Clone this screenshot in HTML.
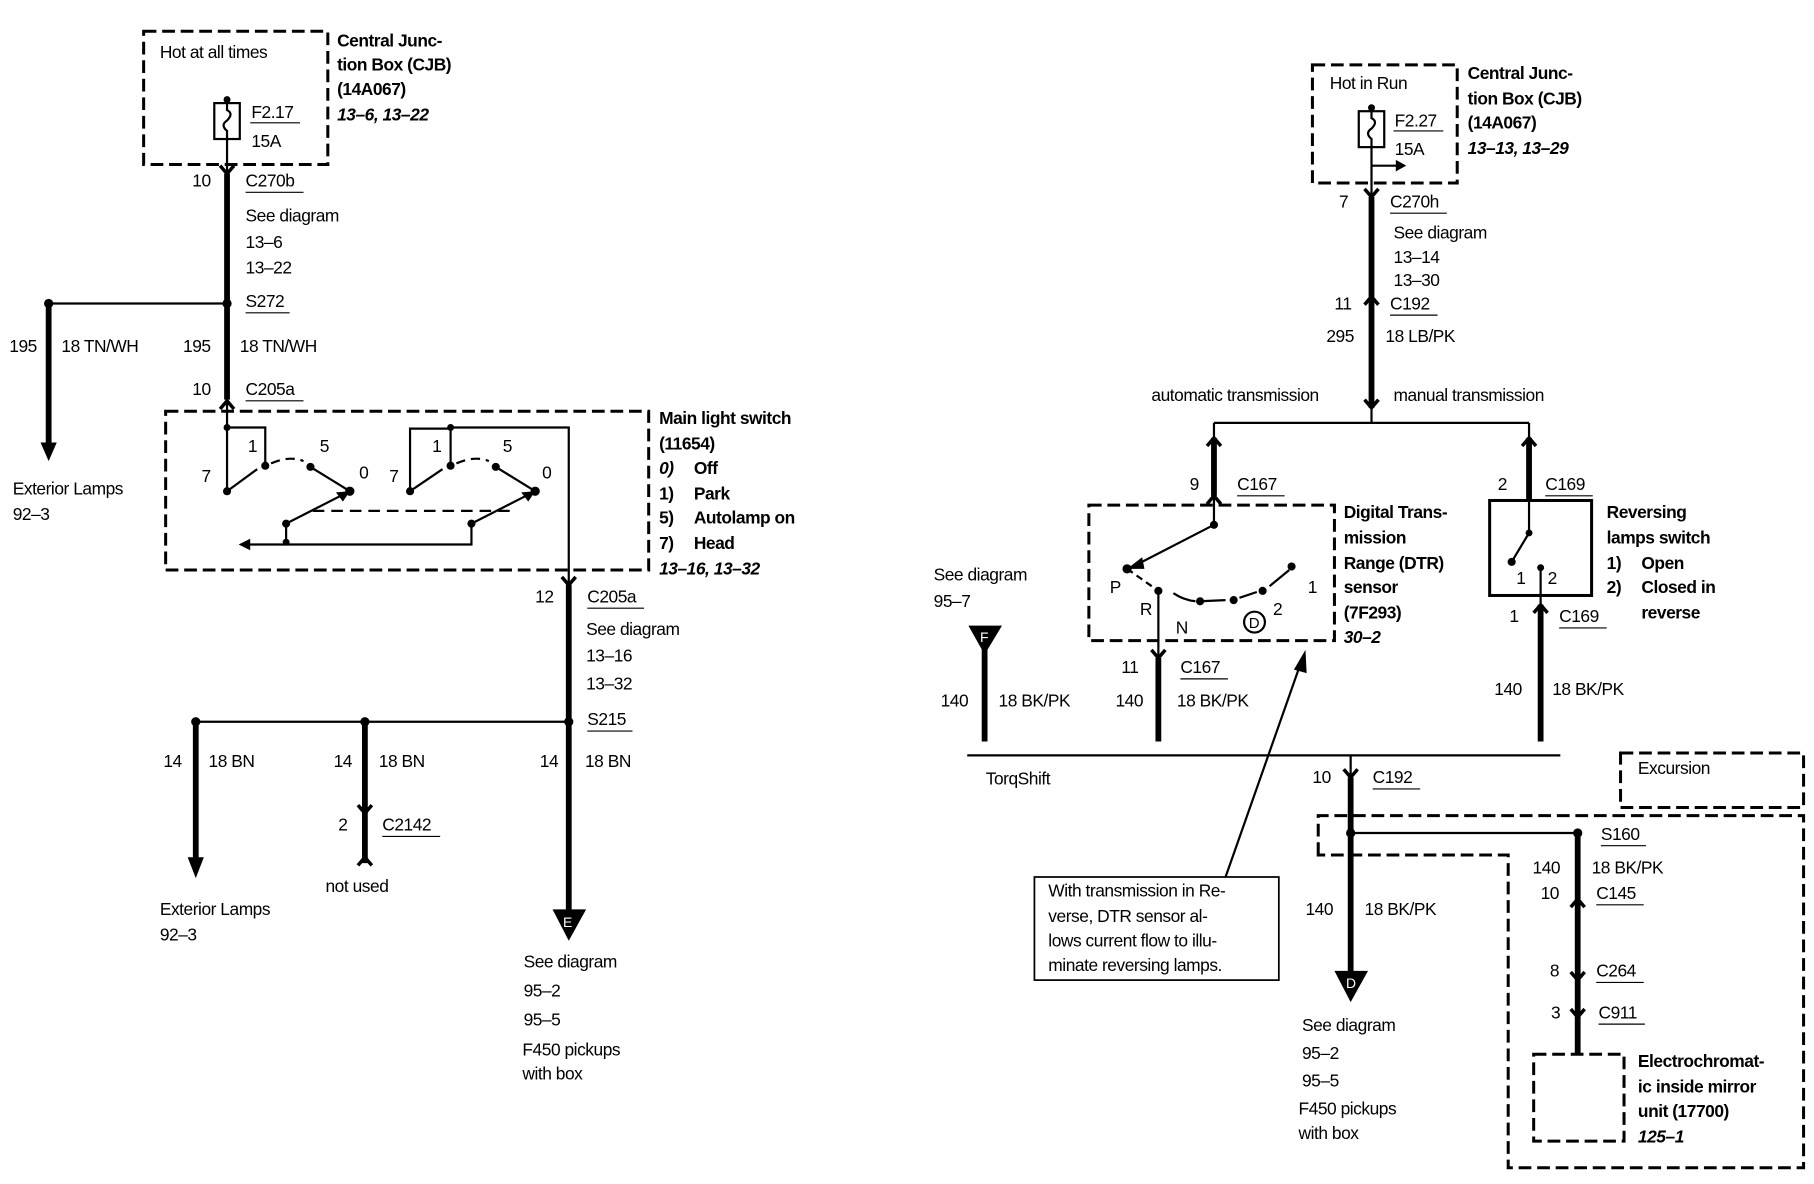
<!DOCTYPE html>
<html><head><meta charset="utf-8"><style>
html,body{margin:0;padding:0;background:#fff;}
svg{display:block;}
text{font-family:"Liberation Sans",sans-serif;font-size:15px;fill:#000;letter-spacing:-0.4px;}
.b{font-weight:bold;}
.i{font-style:italic;font-weight:bold;}
.w{stroke:#000;stroke-width:5;fill:none;}
.t{stroke:#000;stroke-width:1.9;fill:none;}
.c{stroke:#000;stroke-width:3;fill:none;}
.d{stroke:#000;stroke-width:2.6;fill:none;stroke-dasharray:11,5;}
.u{stroke:#000;stroke-width:1;}
</style></head><body>
<svg width="1814" height="1184" viewBox="0 0 1566 1022" preserveAspectRatio="none" xmlns="http://www.w3.org/2000/svg">
<rect width="1566" height="1022" fill="#fff"/>

<!-- ===== LEFT: CJB ===== -->
<rect x="124" y="27" width="159" height="115" class="d"/>
<text x="138" y="50">Hot at all times</text>
<circle cx="196" cy="86" r="3"/>
<rect x="185" y="89" width="22" height="31" class="t"/>
<path d="M196 89 v6 q6 3 0 9 q-6 4 0 9 v7" class="t"/>
<text x="217" y="102">F2.17</text><line x1="216" y1="106" x2="259" y2="106" class="u"/>
<text x="217" y="127">15A</text>
<text x="291" y="40" class="b">Central Junc-</text>
<text x="291" y="61" class="b">tion Box (CJB)</text>
<text x="291" y="82" class="b">(14A067)</text>
<text x="291" y="104" class="i">13–6, 13–22</text>

<line x1="196" y1="120" x2="196" y2="150" class="t"/>
<path d="M190 143 L196 150 L202 143" class="c"/>
<line x1="196" y1="150" x2="196" y2="345" class="w"/>
<text x="166" y="161">10</text>
<text x="212" y="161">C270b</text><line x1="212" y1="166" x2="262" y2="166" class="u"/>
<text x="212" y="191">See diagram</text>
<text x="212" y="214">13–6</text>
<text x="212" y="236">13–22</text>
<circle cx="196" cy="262" r="4"/>
<text x="212" y="265">S272</text><line x1="212" y1="270" x2="250" y2="270" class="u"/>
<line x1="42" y1="262" x2="196" y2="262" class="t"/>
<circle cx="42" cy="262" r="4"/>
<line x1="42" y1="262" x2="42" y2="385" class="w"/>
<path d="M35 382 L49 382 L42 398 Z"/>
<text x="8" y="304">195</text><text x="53" y="304">18 TN/WH</text>
<text x="158" y="304">195</text><text x="207" y="304">18 TN/WH</text>
<text x="166" y="341">10</text>
<text x="212" y="341">C205a</text><line x1="212" y1="346" x2="262" y2="346" class="u"/>
<path d="M190 353 L196 346 L202 353" class="c"/>
<text x="11" y="427">Exterior Lamps</text>
<text x="11" y="449">92–3</text>

<!-- Main light switch -->
<rect x="143" y="355" width="417" height="137" class="d"/>
<line x1="196" y1="345" x2="196" y2="369" class="t"/>
<path d="M196 369 H229 V402 M196 369 V424" class="t"/>
<circle cx="196" cy="369" r="3"/>
<circle cx="196" cy="424" r="3.5"/><circle cx="229" cy="402" r="3.5"/>
<path d="M196 424 L222 405" class="t"/>
<path d="M234 400 Q250 393 262 398" class="t" stroke-dasharray="8,5"/>
<circle cx="268" cy="403" r="3.5"/><path d="M268 403 L302 424" class="t"/>
<circle cx="302" cy="424" r="4"/>
<text x="174" y="416">7</text><text x="214" y="390">1</text><text x="276" y="390">5</text><text x="310" y="413">0</text>
<circle cx="247" cy="452" r="3.5"/>
<path d="M247 452 L296 427" class="t"/><path d="M302 424 L290 425 L296 433 Z"/>
<path d="M247 452 V470 M214 470 H407 V452" class="t"/>
<circle cx="247" cy="468" r="3"/>
<path d="M206 470 L216 465 L216 475 Z"/>
<circle cx="407" cy="452" r="3.5"/>
<path d="M407 452 L456 427" class="t"/><path d="M462 424 L450 425 L456 433 Z"/>
<line x1="270" y1="441" x2="440" y2="441" class="t" stroke-dasharray="10,6"/>
<path d="M354 424 V370 H389 V402" class="t"/>
<circle cx="389" cy="369" r="3"/>
<circle cx="354" cy="424" r="3.5"/><circle cx="389" cy="402" r="3.5"/>
<path d="M354 424 L382 405" class="t"/>
<path d="M394 400 Q410 393 422 398" class="t" stroke-dasharray="8,5"/>
<circle cx="428" cy="403" r="3.5"/><path d="M428 403 L462 424" class="t"/>
<circle cx="462" cy="424" r="4"/>
<text x="336" y="416">7</text><text x="373" y="390">1</text><text x="434" y="390">5</text><text x="468" y="413">0</text>
<path d="M389 369 H491 V505" class="t"/>
<path d="M485 498 L491 505 L497 498" class="c"/>
<text x="569" y="366" class="b">Main light switch</text>
<text x="569" y="388" class="b">(11654)</text>
<text x="569" y="409" class="i">0)</text><text x="599" y="409" class="b">Off</text>
<text x="569" y="431" class="b">1)</text><text x="599" y="431" class="b">Park</text>
<text x="569" y="452" class="b">5)</text><text x="599" y="452" class="b">Autolamp on</text>
<text x="569" y="474" class="b">7)</text><text x="599" y="474" class="b">Head</text>
<text x="569" y="496" class="i">13–16, 13–32</text>

<line x1="491" y1="505" x2="491" y2="790" class="w"/>
<text x="462" y="520">12</text>
<text x="507" y="520">C205a</text><line x1="507" y1="525" x2="556" y2="525" class="u"/>
<text x="506" y="548">See diagram</text>
<text x="506" y="571">13–16</text>
<text x="506" y="595">13–32</text>
<circle cx="491" cy="623" r="4"/>
<text x="507" y="626">S215</text><line x1="507" y1="631" x2="546" y2="631" class="u"/>
<line x1="169" y1="623" x2="491" y2="623" class="t"/>
<circle cx="169" cy="623" r="4"/><circle cx="315" cy="623" r="4"/>
<line x1="169" y1="623" x2="169" y2="742" class="w"/>
<path d="M162 740 L176 740 L169 758 Z"/>
<line x1="315" y1="623" x2="315" y2="745" class="w"/>
<path d="M309 695 L315 702 L321 695 M309 747 L315 740 L321 747" class="c"/>
<text x="141" y="662">14</text><text x="180" y="662">18 BN</text>
<text x="288" y="662">14</text><text x="327" y="662">18 BN</text>
<text x="466" y="662">14</text><text x="505" y="662">18 BN</text>
<text x="292" y="717">2</text>
<text x="330" y="717">C2142</text><line x1="330" y1="722" x2="380" y2="722" class="u"/>
<text x="281" y="770">not used</text>
<text x="138" y="790">Exterior Lamps</text>
<text x="138" y="812">92–3</text>
<path d="M477 785 L506 785 L491 812 Z"/>
<text x="486" y="800" style="fill:#fff;font-size:12px">E</text>
<text x="452" y="835">See diagram</text>
<text x="452" y="860">95–2</text>
<text x="452" y="885">95–5</text>
<text x="451" y="911">F450 pickups</text>
<text x="451" y="932">with box</text>

<!-- ===== RIGHT: CJB ===== -->
<rect x="1133" y="56" width="125" height="102" class="d"/>
<text x="1148" y="77">Hot in Run</text>
<circle cx="1184" cy="93" r="3"/>
<rect x="1173" y="96" width="22" height="31" class="t"/>
<path d="M1184 96 v6 q6 3 0 9 q-6 4 0 9 v7" class="t"/>
<text x="1204" y="109">F2.27</text><line x1="1203" y1="113" x2="1246" y2="113" class="u"/>
<text x="1204" y="134">15A</text>
<path d="M1184 143 H1206" class="t"/><path d="M1214 143 L1205 138 L1205 148 Z"/>
<text x="1267" y="68" class="b">Central Junc-</text>
<text x="1267" y="90" class="b">tion Box (CJB)</text>
<text x="1267" y="111" class="b">(14A067)</text>
<text x="1267" y="133" class="i">13–13, 13–29</text>
<line x1="1184" y1="127" x2="1184" y2="170" class="t"/>
<path d="M1178 163 L1184 170 L1190 163" class="c"/>
<line x1="1184" y1="170" x2="1184" y2="352" class="w"/>
<path d="M1178 263 L1184 256 L1190 263" class="c"/>
<text x="1156" y="179">7</text>
<text x="1200" y="179">C270h</text><line x1="1200" y1="184" x2="1249" y2="184" class="u"/>
<text x="1203" y="206">See diagram</text>
<text x="1203" y="227">13–14</text>
<text x="1203" y="247">13–30</text>
<text x="1152" y="267">11</text>
<text x="1200" y="267">C192</text><line x1="1200" y1="272" x2="1241" y2="272" class="u"/>
<text x="1145" y="295">295</text><text x="1196" y="295">18 LB/PK</text>
<text x="994" y="346">automatic transmission</text>
<text x="1203" y="346">manual transmission</text>
<path d="M1178 345 L1184 352 L1190 345" class="c"/>
<line x1="1184" y1="352" x2="1184" y2="365" class="t"/>
<line x1="1048" y1="365" x2="1320" y2="365" class="t" stroke-width="2.4"/>
<line x1="1048" y1="365" x2="1048" y2="378" class="t"/>
<line x1="1320" y1="365" x2="1320" y2="378" class="t"/>
<path d="M1042 385 L1048 378 L1054 385 M1314 385 L1320 378 L1326 385" class="c"/>
<line x1="1048" y1="378" x2="1048" y2="428" class="w"/>
<line x1="1320" y1="378" x2="1320" y2="432" class="w"/>
<path d="M1042 435 L1048 428 L1054 435" class="c"/>
<text x="1027" y="423">9</text>
<text x="1068" y="423">C167</text><line x1="1068" y1="428" x2="1109" y2="428" class="u"/>
<text x="1293" y="423">2</text>
<text x="1334" y="423">C169</text><line x1="1334" y1="428" x2="1375" y2="428" class="u"/>

<!-- DTR -->
<rect x="940" y="436" width="212" height="117" class="d"/>
<line x1="1048" y1="428" x2="1048" y2="453" class="t"/>
<circle cx="1048" cy="453" r="3.5"/>
<path d="M1048 453 L980 488" class="t"/><path d="M973 491 L986 481 L988 491 Z"/>
<circle cx="973" cy="491" r="4"/>
<path d="M973 491 L1000 510" class="t" stroke-dasharray="6,4"/>
<circle cx="1000" cy="510" r="3.5"/>
<path d="M1013 512 Q1022 518 1032 519" class="t"/>
<circle cx="1036" cy="519" r="3.5"/>
<path d="M1036 519 L1058 518" class="t"/>
<circle cx="1065" cy="518" r="3.5"/>
<path d="M1070 516 L1085 511" class="t"/>
<circle cx="1090" cy="510" r="3.5"/>
<path d="M1096 506 L1113 492" class="t"/>
<circle cx="1115" cy="489" r="3.5"/>
<text x="958" y="512">P</text><text x="984" y="531">R</text>
<text x="1015" y="547">N</text><text x="1099" y="531">2</text><text x="1129" y="512">1</text>
<circle cx="1083" cy="537" r="9" class="t"/>
<text x="1078" y="542" style="font-size:13px">D</text>
<line x1="1000" y1="510" x2="1000" y2="568" class="t"/>
<path d="M994 561 L1000 568 L1006 561" class="c"/>
<line x1="1000" y1="568" x2="1000" y2="640" class="w"/>
<text x="1160" y="447" class="b">Digital Trans-</text>
<text x="1160" y="469" class="b">mission</text>
<text x="1160" y="491" class="b">Range (DTR)</text>
<text x="1160" y="512" class="b">sensor</text>
<text x="1160" y="534" class="b">(7F293)</text>
<text x="1160" y="555" class="i">30–2</text>
<text x="968" y="581">11</text>
<text x="1019" y="581">C167</text><line x1="1019" y1="586" x2="1060" y2="586" class="u"/>
<text x="963" y="610">140</text><text x="1016" y="610">18 BK/PK</text>

<!-- Reversing switch -->
<rect x="1286" y="432" width="88" height="82" fill="none" stroke="#000" stroke-width="2.6"/>
<line x1="1320" y1="432" x2="1320" y2="460" class="t"/>
<circle cx="1320" cy="460" r="3"/>
<path d="M1320 460 L1305 485" class="t"/><circle cx="1305" cy="485" r="3.5"/>
<circle cx="1330" cy="490" r="3"/>
<line x1="1330" y1="490" x2="1330" y2="522" class="t"/>
<text x="1309" y="504">1</text><text x="1336" y="504">2</text>
<path d="M1324 529 L1330 522 L1336 529" class="c"/>
<line x1="1330" y1="522" x2="1330" y2="640" class="w"/>
<text x="1387" y="447" class="b">Reversing</text>
<text x="1387" y="469" class="b">lamps switch</text>
<text x="1387" y="491" class="b">1)</text><text x="1417" y="491" class="b">Open</text>
<text x="1387" y="512" class="b">2)</text><text x="1417" y="512" class="b">Closed in</text>
<text x="1417" y="534" class="b">reverse</text>
<text x="1303" y="537">1</text>
<text x="1346" y="537">C169</text><line x1="1346" y1="542" x2="1387" y2="542" class="u"/>
<text x="1290" y="600">140</text><text x="1340" y="600">18 BK/PK</text>

<!-- F -->
<text x="806" y="501">See diagram</text>
<text x="806" y="524">95–7</text>
<path d="M836 540 L865 540 L850 565 Z"/>
<text x="846" y="554" style="fill:#fff;font-size:12px">F</text>
<line x1="850" y1="560" x2="850" y2="640" class="w"/>
<text x="812" y="610">140</text><text x="862" y="610">18 BK/PK</text>

<line x1="835" y1="652" x2="1347" y2="652" class="t" stroke-width="3"/>
<text x="851" y="677">TorqShift</text>
<path d="M1160 664 L1166 671 L1172 664" class="c"/>
<line x1="1166" y1="652" x2="1166" y2="671" class="t"/>
<line x1="1166" y1="671" x2="1166" y2="840" class="w"/>
<text x="1133" y="676">10</text>
<text x="1185" y="676">C192</text><line x1="1185" y1="681" x2="1226" y2="681" class="u"/>
<text x="1127" y="790">140</text><text x="1178" y="790">18 BK/PK</text>
<path d="M1152 838 L1181 838 L1166 865 Z"/>
<text x="1162" y="853" style="fill:#fff;font-size:12px">D</text>
<text x="1124" y="890">See diagram</text>
<text x="1124" y="914">95–2</text>
<text x="1124" y="938">95–5</text>
<text x="1121" y="962">F450 pickups</text>
<text x="1121" y="983">with box</text>

<!-- Excursion -->
<rect x="1399" y="650" width="158" height="47" class="d" stroke-width="2"/>
<text x="1414" y="668">Excursion</text>
<path d="M1138 738 V704 H1557 V1008 H1302 V738 Z" class="d" stroke-width="2"/>
<circle cx="1166" cy="719" r="4"/>
<line x1="1166" y1="719" x2="1362" y2="719" class="t"/>
<circle cx="1362" cy="719" r="4"/>
<text x="1382" y="725">S160</text><line x1="1382" y1="730" x2="1421" y2="730" class="u"/>
<line x1="1362" y1="719" x2="1362" y2="910" class="w"/>
<path d="M1356 783 L1362 776 L1368 783 M1356 839 L1362 846 L1368 839 M1356 871 L1362 878 L1368 871" class="c"/>
<text x="1323" y="754">140</text><text x="1374" y="754">18 BK/PK</text>
<text x="1330" y="776">10</text>
<text x="1378" y="776">C145</text><line x1="1378" y1="781" x2="1419" y2="781" class="u"/>
<text x="1338" y="843">8</text>
<text x="1378" y="843">C264</text><line x1="1378" y1="848" x2="1419" y2="848" class="u"/>
<text x="1339" y="879">3</text>
<text x="1380" y="879">C911</text><line x1="1380" y1="884" x2="1420" y2="884" class="u"/>
<rect x="1324" y="910" width="78" height="75" class="d"/>
<text x="1414" y="921" class="b">Electrochromat-</text>
<text x="1414" y="943" class="b">ic inside mirror</text>
<text x="1414" y="964" class="b">unit (17700)</text>
<text x="1414" y="986" class="i">125–1</text>

<!-- callout -->
<rect x="893" y="757" width="211" height="89" fill="#fff" stroke="#000" stroke-width="1.5"/>
<text x="905" y="774">With transmission in Re-</text>
<text x="905" y="796">verse, DTR sensor al-</text>
<text x="905" y="817">lows current flow to illu-</text>
<text x="905" y="838">minate reversing lamps.</text>
<line x1="1058" y1="757" x2="1122" y2="575" class="t"/>
<path d="M1127 561 L1117 578 L1128 581 Z"/>
</svg>
</body></html>
